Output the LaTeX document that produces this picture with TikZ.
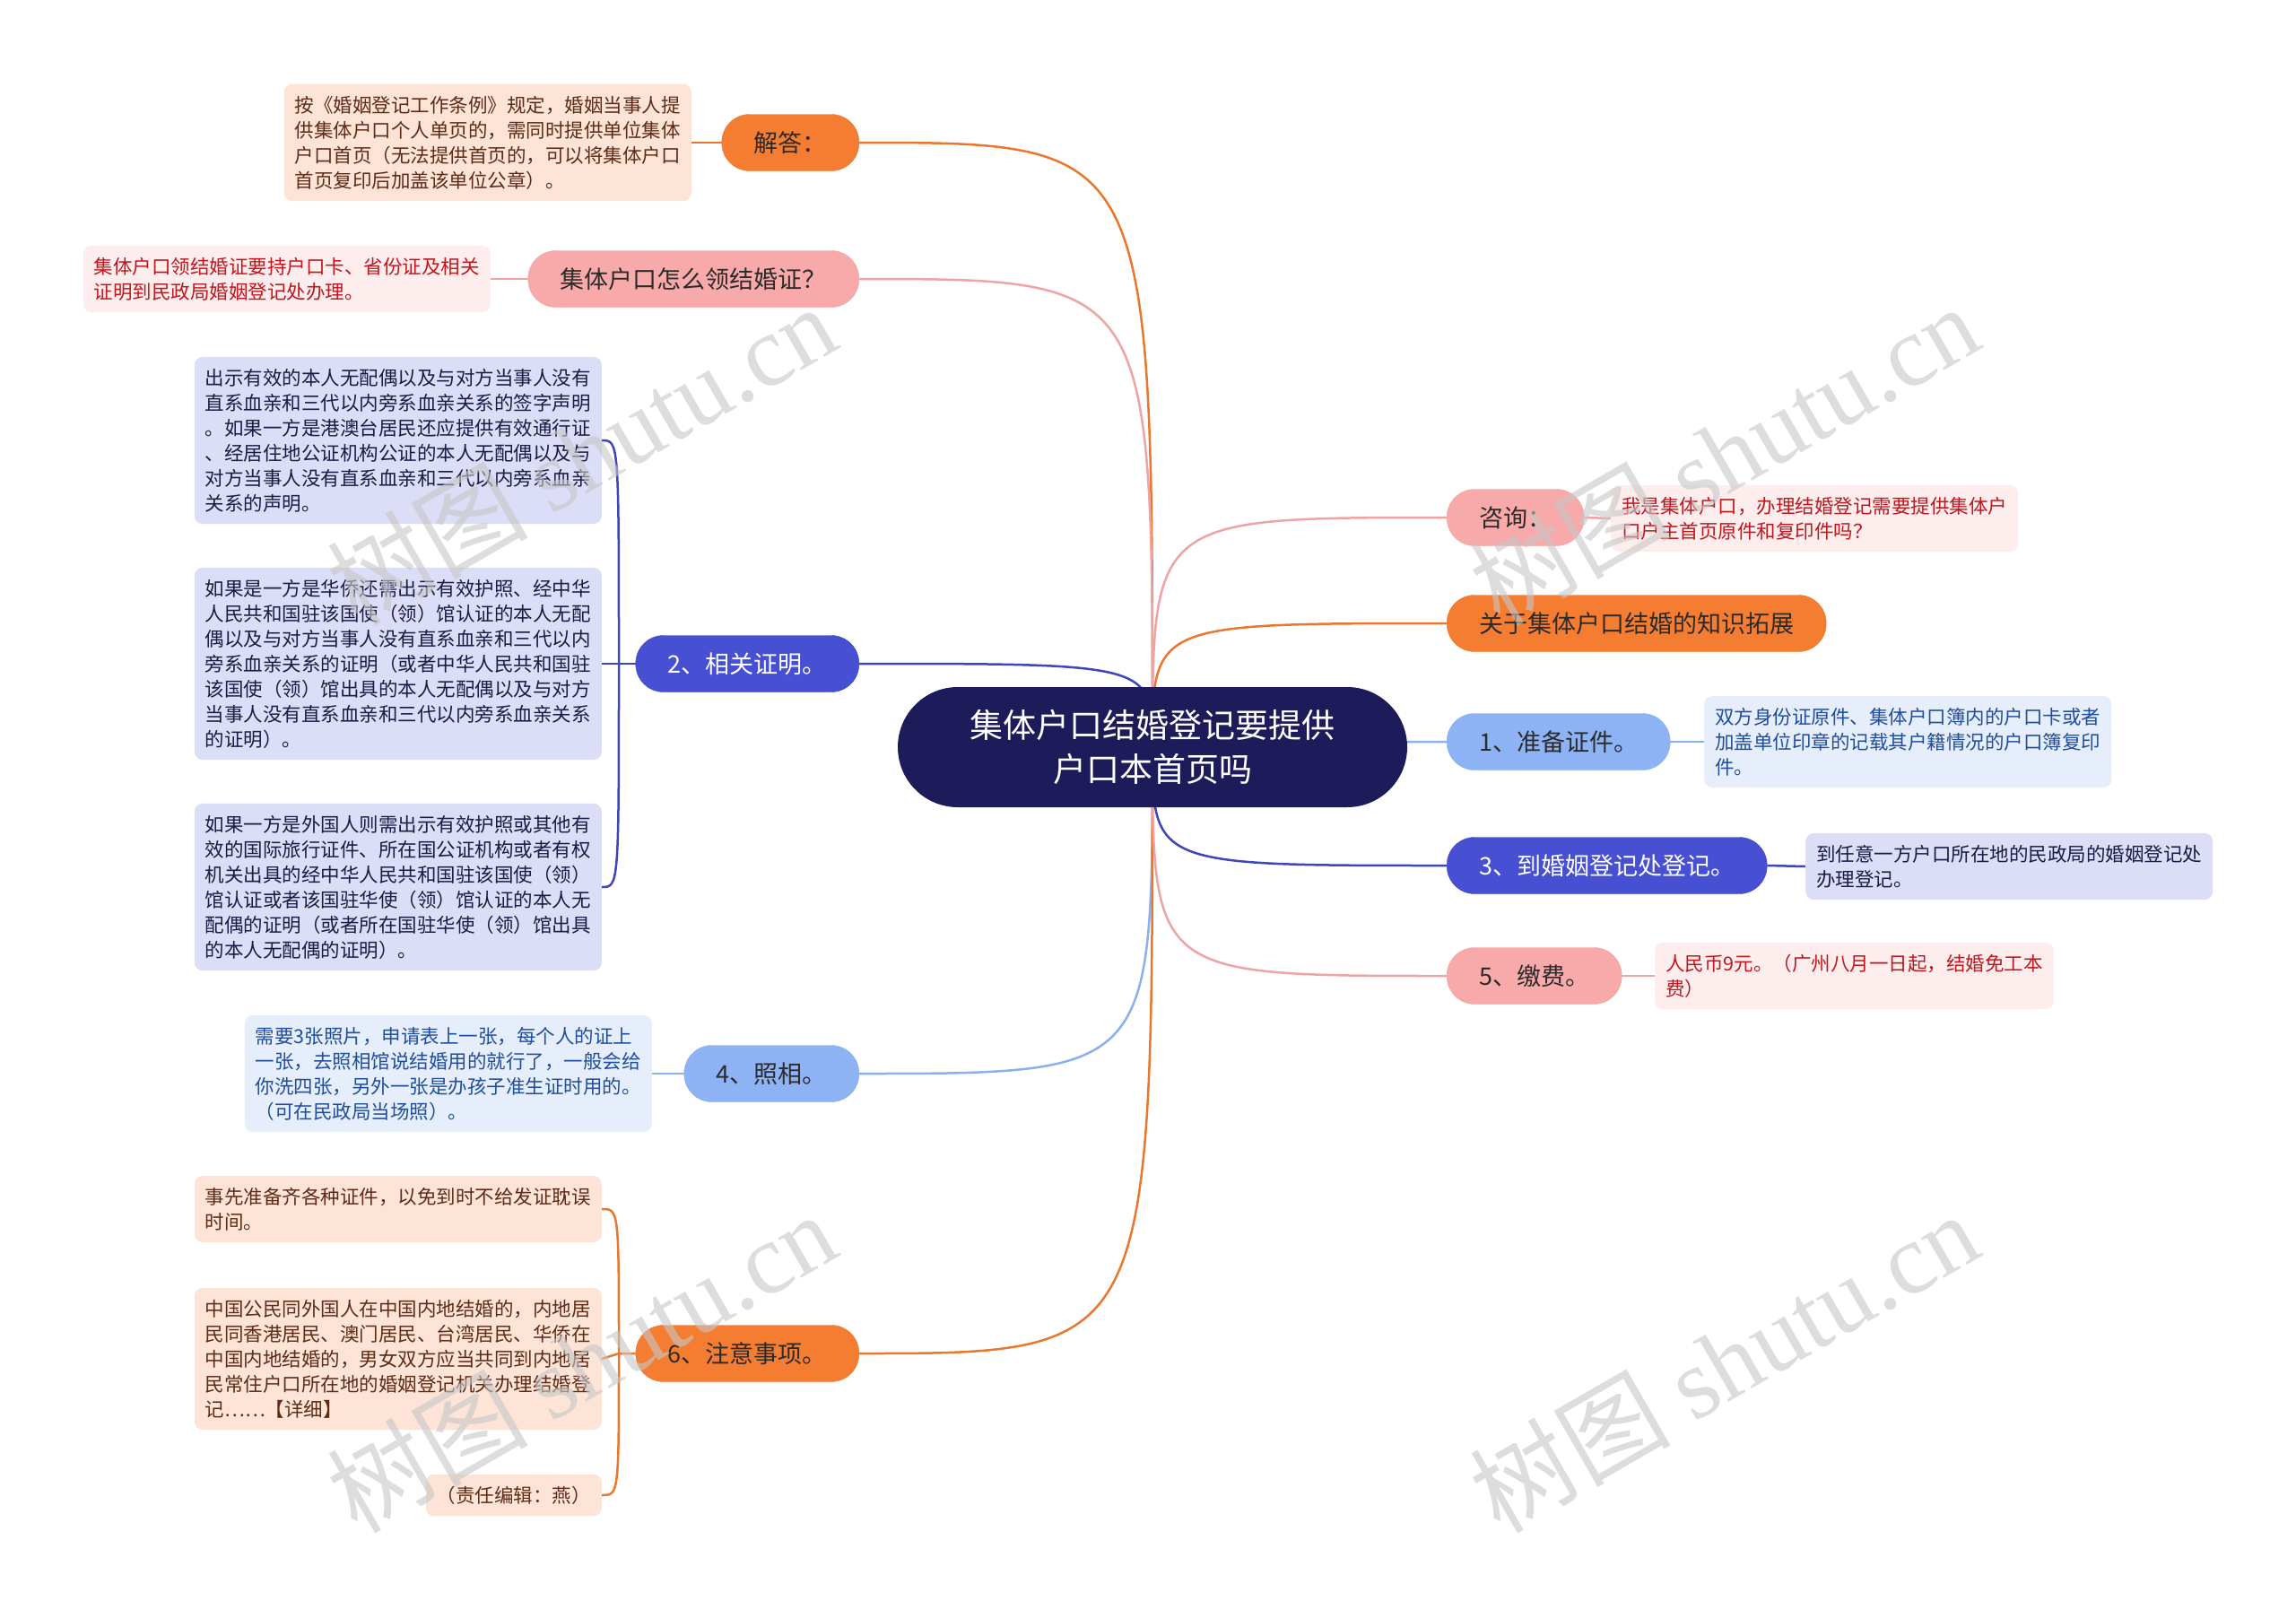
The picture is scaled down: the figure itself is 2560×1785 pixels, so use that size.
\documentclass[tikz,border=0pt]{standalone}
\usepackage{fontspec}
\setmainfont{Noto Sans CJK SC}
\newfontfamily\markfont{Liberation Serif}
\usetikzlibrary{backgrounds}

\definecolor{root navy}{HTML}{1E1B5A}
\definecolor{orange fill}{HTML}{F57D31}
\definecolor{orange line}{HTML}{E8782F}
\definecolor{orange pale}{HTML}{FDE4D7}
\definecolor{orange ink}{HTML}{5E2C16}
\definecolor{pink fill}{HTML}{F8A9A9}
\definecolor{pink line}{HTML}{F0A3A3}
\definecolor{pink pale}{HTML}{FDEDED}
\definecolor{pink ink}{HTML}{C0171E}
\definecolor{blue fill}{HTML}{4750D2}
\definecolor{blue line}{HTML}{3E46B9}
\definecolor{blue pale}{HTML}{DCDDF6}
\definecolor{blue ink}{HTML}{1B1B45}
\definecolor{sky fill}{HTML}{8DB3F4}
\definecolor{sky line}{HTML}{8AB0EE}
\definecolor{sky pale}{HTML}{E6EEFC}
\definecolor{sky ink}{HTML}{1F4E9E}
\definecolor{topic ink}{HTML}{2B2B2B}

\tikzstyle{root}=[fill=root navy, text=white, rounded corners=67pt, minimum width=568pt, minimum height=134pt, align=center, font=\fontsize{37}{49}\selectfont]
\tikzstyle{topic}=[rounded corners=31pt, minimum height=63pt, inner xsep=36pt, font=\fontsize{27}{32}\selectfont]
\tikzstyle{orange topic}=[topic, fill=orange fill, draw=orange line, text=topic ink]
\tikzstyle{pink topic}=[topic, fill=pink fill, draw=pink line, text=topic ink]
\tikzstyle{blue topic}=[topic, fill=blue fill, draw=blue line, text=white]
\tikzstyle{sky topic}=[topic, fill=sky fill, draw=sky line, text=topic ink]
\tikzstyle{leaf}=[rounded corners=9pt, inner xsep=12pt, inner ysep=13pt, align=left, font=\fontsize{21.5}{28}\selectfont]
\tikzstyle{orange leaf}=[leaf, fill=orange pale, text=orange ink]
\tikzstyle{pink leaf}=[leaf, fill=pink pale, text=pink ink]
\tikzstyle{blue leaf}=[leaf, fill=blue pale, text=blue ink]
\tikzstyle{sky leaf}=[leaf, fill=sky pale, text=sky ink]
\tikzstyle{orange link}=[draw=orange line, line width=2.5pt]
\tikzstyle{pink link}=[draw=pink line, line width=2.5pt]
\tikzstyle{blue link}=[draw=blue line, line width=2.5pt]
\tikzstyle{sky link}=[draw=sky line, line width=2.5pt]
\tikzstyle{watermark}=[text=black!22, opacity=0.6, rotate=30, font=\fontsize{112}{112}\selectfont]

\begin{document}
\begin{tikzpicture}[x=1pt, y=-1pt]
	\useasboundingbox (0,0) rectangle (2560,1785);

	% Central topic
	\node[root] (root) at (1285,833) {集体户口结婚登记要提供\\户口本首页吗};

	% Left branches
	\node[orange topic, anchor=east] (jieda) at (958,159) {解答：};
	\node[pink topic, anchor=east] (lingzheng) at (958,311) {集体户口怎么领结婚证？};
	\node[blue topic, anchor=east] (zhengming) at (958,740) {2、相关证明。};
	\node[sky topic, anchor=east] (zhaoxiang) at (958,1197) {4、照相。};
	\node[orange topic, anchor=east] (zhuyi) at (958,1509) {6、注意事项。};

	% Right branches
	\node[pink topic, anchor=west] (zixun) at (1613,577) {咨询：};
	\node[orange topic, anchor=west] (tuozhan) at (1613,695) {关于集体户口结婚的知识拓展};
	\node[sky topic, anchor=west] (zhengjian) at (1613,827) {1、准备证件。};
	\node[blue topic, anchor=west] (dengji) at (1613,965) {3、到婚姻登记处登记。};
	\node[pink topic, anchor=west] (jiaofei) at (1613,1088) {5、缴费。};

	% Leaves on the left
	\node[orange leaf, anchor=east] (jieda 1) at (771,159) {按《婚姻登记工作条例》规定，婚姻当事人提\\供集体户口个人单页的，需同时提供单位集体\\户口首页（无法提供首页的，可以将集体户口\\首页复印后加盖该单位公章）。};
	\node[pink leaf, anchor=east] (lingzheng 1) at (547,311) {集体户口领结婚证要持户口卡、省份证及相关\\证明到民政局婚姻登记处办理。};
	\node[blue leaf, anchor=east] (zhengming 1) at (671,491) {出示有效的本人无配偶以及与对方当事人没有\\直系血亲和三代以内旁系血亲关系的签字声明\\。如果一方是港澳台居民还应提供有效通行证\\、经居住地公证机构公证的本人无配偶以及与\\对方当事人没有直系血亲和三代以内旁系血亲\\关系的声明。};
	\node[blue leaf, anchor=east] (zhengming 2) at (671,740) {如果是一方是华侨还需出示有效护照、经中华\\人民共和国驻该国使（领）馆认证的本人无配\\偶以及与对方当事人没有直系血亲和三代以内\\旁系血亲关系的证明（或者中华人民共和国驻\\该国使（领）馆出具的本人无配偶以及与对方\\当事人没有直系血亲和三代以内旁系血亲关系\\的证明）。};
	\node[blue leaf, anchor=east] (zhengming 3) at (671,989) {如果一方是外国人则需出示有效护照或其他有\\效的国际旅行证件、所在国公证机构或者有权\\机关出具的经中华人民共和国驻该国使（领）\\馆认证或者该国驻华使（领）馆认证的本人无\\配偶的证明（或者所在国驻华使（领）馆出具\\的本人无配偶的证明）。};
	\node[sky leaf, anchor=east] (zhaoxiang 1) at (727,1197) {需要3张照片，申请表上一张，每个人的证上\\一张，去照相馆说结婚用的就行了，一般会给\\你洗四张，另外一张是办孩子准生证时用的。\\（可在民政局当场照）。};
	\node[orange leaf, anchor=east] (zhuyi 1) at (671,1348) {事先准备齐各种证件，以免到时不给发证耽误\\时间。};
	\node[orange leaf, anchor=east] (zhuyi 2) at (671,1515) {中国公民同外国人在中国内地结婚的，内地居\\民同香港居民、澳门居民、台湾居民、华侨在\\中国内地结婚的，男女双方应当共同到内地居\\民常住户口所在地的婚姻登记机关办理结婚登\\记……【详细】};
	\node[orange leaf, anchor=east] (zhuyi 3) at (671,1667) {（责任编辑：燕）};

	% Leaves on the right
	\node[pink leaf, anchor=west] (zixun 1) at (1796,578) {我是集体户口，办理结婚登记需要提供集体户\\口户主首页原件和复印件吗？};
	\node[sky leaf, anchor=west] (zhengjian 1) at (1900,827) {双方身份证原件、集体户口簿内的户口卡或者\\加盖单位印章的记载其户籍情况的户口簿复印\\件。};
	\node[blue leaf, anchor=west] (dengji 1) at (2013,966) {到任意一方户口所在地的民政局的婚姻登记处\\办理登记。};
	\node[pink leaf, anchor=west] (jiaofei 1) at (1845,1088) {人民币9元。（广州八月一日起，结婚免工本\\费）};

	\coordinate (zhengming j) at (690,740);
	\coordinate (zhuyi j) at (690,1509);

	\begin{pgfonlayer}{background}
		\fill[white] (0,0) rectangle (2560,1785);

		% Central topic to branches
		\draw[orange link] (root.center) .. controls (root.center |- jieda.east) .. (jieda.east);
		\draw[pink link] (root.center) .. controls (root.center |- lingzheng.east) .. (lingzheng.east);
		\draw[blue link] (root.center) .. controls (root.center |- zhengming.east) .. (zhengming.east);
		\draw[sky link] (root.center) .. controls (root.center |- zhaoxiang.east) .. (zhaoxiang.east);
		\draw[orange link] (root.center) .. controls (root.center |- zhuyi.east) .. (zhuyi.east);
		\draw[pink link] (root.center) .. controls (root.center |- zixun.west) .. (zixun.west);
		\draw[orange link] (root.center) .. controls (root.center |- tuozhan.west) .. (tuozhan.west);
		\draw[sky link] (root.center) .. controls (root.center |- zhengjian.west) .. (zhengjian.west);
		\draw[blue link] (root.center) .. controls (root.center |- dengji.west) .. (dengji.west);
		\draw[pink link] (root.center) .. controls (root.center |- jiaofei.west) .. (jiaofei.west);

		% Branches to leaves
		\draw[orange link] (jieda.west) -- (jieda 1.east);
		\draw[pink link] (lingzheng.west) -- (lingzheng 1.east);
		\draw[sky link] (zhaoxiang.west) -- (zhaoxiang 1.east);
		\draw[pink link] (zixun.east) -- (zixun 1.west);
		\draw[sky link] (zhengjian.east) -- (zhengjian 1.west);
		\draw[blue link] (dengji.east) -- (dengji 1.west);
		\draw[pink link] (jiaofei.east) -- (jiaofei 1.west);

		\draw[blue link] (zhengming.west) -- (zhengming j) -- (zhengming 2.east);
		\foreach \n in {1, 3}{ \draw[blue link] (zhengming j) .. controls (zhengming j |- zhengming \n.east) .. (zhengming \n.east); }
		\draw[orange link] (zhuyi.west) -- (zhuyi j) -- (zhuyi 2.east);
		\foreach \n in {1, 3}{ \draw[orange link] (zhuyi j) .. controls (zhuyi j |- zhuyi \n.east) .. (zhuyi \n.east); }
	\end{pgfonlayer}

	% Watermarks
	\node[watermark] (mark a) at (648,506) {树图 {\markfont shutu.cn}};
	\node[watermark] (mark b) at (1922,506) {树图 {\markfont shutu.cn}};
	\node[watermark] (mark c) at (648,1518) {树图 {\markfont shutu.cn}};
	\node[watermark] (mark d) at (1922,1518) {树图 {\markfont shutu.cn}};
\end{tikzpicture}
\end{document}
